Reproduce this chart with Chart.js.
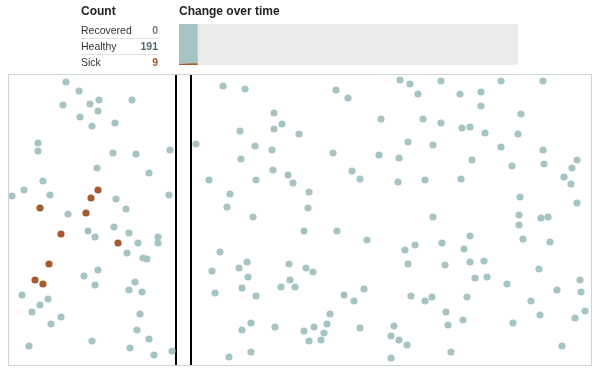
<!DOCTYPE html>
<html>
<head>
<meta charset="utf-8">
<script src="https://cdn.jsdelivr.net/npm/chart.js@4.4.1/dist/chart.umd.min.js"></script>
<style>
  body { margin: 0; background: #fff; font-family: "Liberation Sans", Arial, sans-serif; }
  #wrap { position: relative; width: 600px; height: 373px; overflow: hidden; }
  .title { position: absolute; top: 4px; font-weight: bold; font-size: 12px; color: #222; }
  .row { position: absolute; left: 81px; width: 77px; height: 15px; font-size: 10.5px; color: #333; line-height: 15px; }
  .row b { position: absolute; right: 0; top: 0; }
  .sep { border-bottom: 1px solid #e3e3e3; }
  #sim { position: absolute; left: 0; top: 0; }
  #hist { position: absolute; left: 179px; top: 24px; }
</style>
</head>
<body>
<div id="wrap">
  <canvas id="sim" width="600" height="373"></canvas>
  <div class="title" style="left:81px">Count</div>
  <div class="title" style="left:179px">Change over time</div>
  <div class="row sep" style="top:23px">Recovered<b style="color:#777">0</b></div>
  <div class="row sep" style="top:39px">Healthy<b style="color:#4f6b6c">191</b></div>
  <div class="row" style="top:55px">Sick<b style="color:#a0552b">9</b></div>
  <canvas id="hist" width="339" height="41"></canvas>
</div>
<script>
// positions inside the box (box is 584 x 292, origin top-left)
const healthyX = [58,71,55,82,91,124,90,72,84,107,30,30,105,128,162,89,141,35,16,4,42,108,161,118,60,
  106,80,87,121,150,130,150,119,135,139,90,76,87,127,121,134,14,40,32,24,132,53,43,129,141,21,84,122,146,164,
  188,215,237,266,274,266,232,291,247,264,233,265,280,201,248,285,222,301,219,300,245,
  296,212,239,231,204,281,298,305,240,282,234,273,287,207,248,243,234,267,296,306,301,243,221,
  328,340,392,402,433,410,373,415,433,400,425,325,371,391,344,352,390,417,425,
  329,359,397,407,434,400,437,356,336,346,403,417,424,322,438,319,440,352,386,316,383,391,313,399,443,383,
  493,535,452,473,473,513,454,462,477,510,493,535,464,504,536,569,564,453,556,563,512,569,511,533,540,
  511,462,515,542,456,462,476,531,467,479,572,499,549,573,459,523,577,532,455,567,505,554];
const healthyY = [8,17,31,30,26,26,37,43,52,49,69,77,79,80,76,94,99,107,116,122,121,125,121,135,140,
  153,157,163,159,163,169,169,179,184,185,196,202,211,208,216,218,221,225,231,238,240,243,250,256,265,272,267,274,281,277,
  70,12,15,39,50,55,57,60,72,76,85,96,101,106,106,109,120,118,133,134,143,
  157,178,188,194,197,190,194,198,203,206,214,213,213,219,222,249,256,253,257,253,267,278,283,
  16,24,6,10,7,20,45,45,49,68,71,79,81,84,97,105,108,106,143,
  157,166,176,171,169,190,191,215,221,227,222,227,223,240,238,250,251,254,252,259,262,266,266,271,278,284,
  7,7,20,18,32,40,54,53,59,60,73,76,86,92,90,86,94,105,103,110,123,129,141,144,143,
  151,162,165,168,175,188,187,195,204,203,206,210,216,218,223,227,237,241,246,244,249,272];
const sickX = [90,83,32,78,53,110,41,27,35];
const sickY = [116,124,134,139,160,169,190,206,210];
const wallX = [168, 183];
const boxW = 584, boxH = 292;

// history of the counts, one entry per time step
const steps = [0, 1, 2, 3, 4, 5];
const sickHistory = [5, 6, 7, 8, 9, 9];
const healthyHistory = [195, 194, 193, 192, 191, 191];
const recoveredHistory = [0, 0, 0, 0, 0, 0];
const maxSteps = 90;

const teal = '#a7c4c4';
const brown = '#a65a2e';

const pts = (xs, ys) => xs.map((x, i) => ({ x: x, y: ys[i] }));

const boxPlugin = {
  id: 'box',
  afterDraw(chart) {
    const { ctx, chartArea: a } = chart;
    ctx.save();
    ctx.strokeStyle = '#cdd5d5';
    ctx.lineWidth = 1;
    ctx.strokeRect(a.left + 0.5, a.top + 0.5, a.right - a.left - 1, a.bottom - a.top - 1);
    ctx.restore();
  }
};

new Chart(document.getElementById('sim'), {
  type: 'scatter',
  data: {
    datasets: [
      { data: pts(healthyX, healthyY), backgroundColor: teal, pointRadius: 3.6, borderWidth: 0 },
      { data: pts(sickX, sickY), backgroundColor: brown, pointRadius: 3.6, borderWidth: 0 },
      { type: 'line', data: [{ x: wallX[0], y: 0 }, { x: wallX[0], y: boxH }], borderColor: '#000', borderWidth: 2, pointRadius: 0 },
      { type: 'line', data: [{ x: wallX[1], y: 0 }, { x: wallX[1], y: boxH }], borderColor: '#000', borderWidth: 2, pointRadius: 0 }
    ]
  },
  options: {
    responsive: false,
    animation: false,
    layout: { padding: { left: 8, right: 8, top: 74, bottom: 7 } },
    plugins: { legend: { display: false }, tooltip: { enabled: false } },
    scales: {
      x: { type: 'linear', min: 0, max: boxW, display: false },
      y: { type: 'linear', min: 0, max: boxH, reverse: true, display: false }
    }
  },
  plugins: [boxPlugin]
});

const bgPlugin = {
  id: 'bg',
  beforeDraw(chart) {
    const { ctx, chartArea: a } = chart;
    ctx.save();
    ctx.fillStyle = '#ecebeb';
    ctx.fillRect(a.left, a.top, a.right - a.left, a.bottom - a.top);
    ctx.restore();
  }
};

new Chart(document.getElementById('hist'), {
  type: 'line',
  data: {
    datasets: [
      { data: pts(steps, sickHistory), backgroundColor: brown, borderWidth: 0, pointRadius: 0, fill: 'origin' },
      { data: pts(steps, healthyHistory), backgroundColor: teal, borderWidth: 0, pointRadius: 0, fill: '-1' },
      { data: pts(steps, recoveredHistory), backgroundColor: '#777', borderWidth: 0, pointRadius: 0, fill: '-1' }
    ]
  },
  options: {
    responsive: false,
    animation: false,
    plugins: { legend: { display: false }, tooltip: { enabled: false } },
    scales: {
      x: { type: 'linear', min: 0, max: maxSteps, display: false },
      y: { stacked: true, min: 0, max: 200, display: false }
    }
  },
  plugins: [bgPlugin]
});
</script>
</body>
</html>
